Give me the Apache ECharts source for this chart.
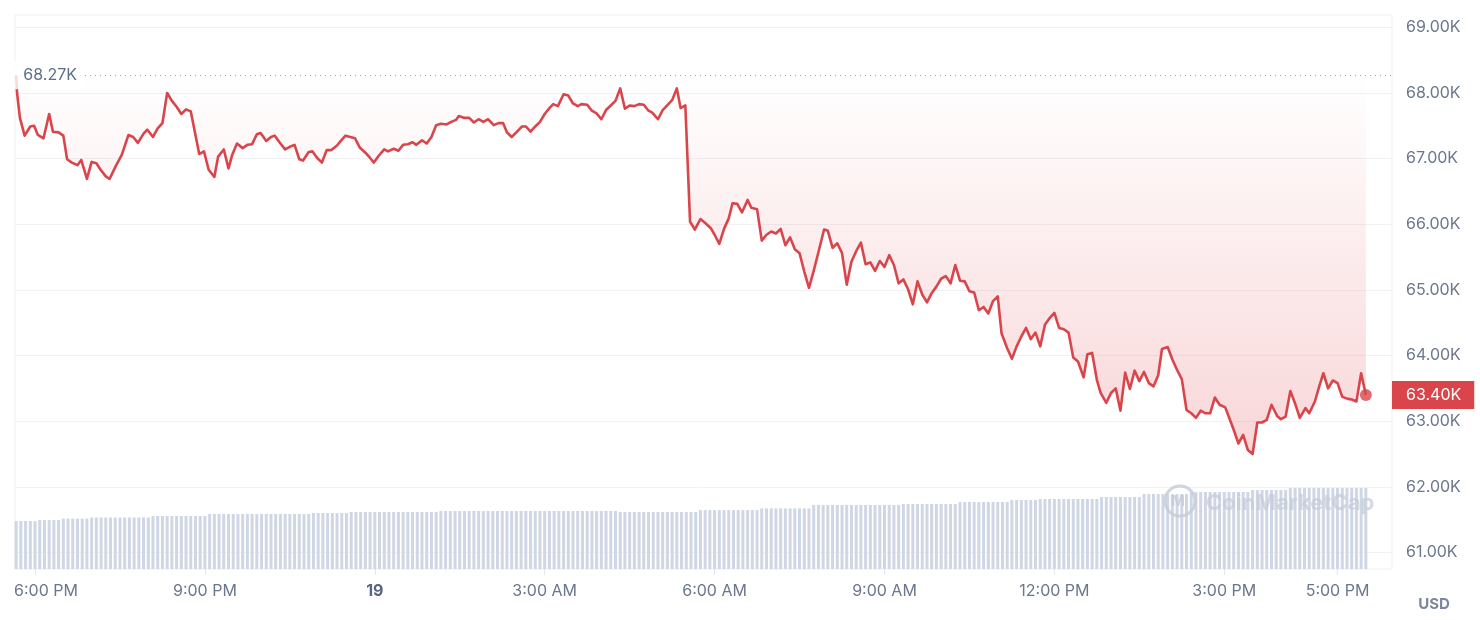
<!DOCTYPE html>
<html><head><meta charset="utf-8">
<script src="https://cdn.jsdelivr.net/npm/echarts@6/dist/echarts.min.js"></script>
<style>html,body{margin:0;padding:0;background:#fff}#c{width:1480px;height:620px}</style>
</head><body><div id="c"></div>
<script>
// minutes relative to 6:00 PM on day 18
const priceMinutes = [
-20,-19,-16,-11,-5,-1,3,9,15,19,
25,30,34,39,45,49,55,60,65,70,
75,79,85,92,99,104,109,115,119,125,
130,135,140,145,150,155,160,165,170,174,
179,184,190,194,200,205,209,214,220,225,
230,235,239,245,250,254,260,265,270,275,
280,284,290,294,299,304,309,314,320,324,
329,334,339,344,350,355,359,364,370,374,
380,385,390,395,400,404,410,415,420,425,
430,436,441,446,449,455,460,465,470,475,
480,486,491,496,500,505,510,516,520,525,
530,535,540,545,549,554,560,565,570,575,
579,585,590,595,600,605,610,615,620,625,
630,635,640,645,650,654,660,665,669,675,
680,684,689,694,699,705,710,716,720,725,
730,735,739,744,749,755,759,765,770,775,
780,785,790,795,800,805,810,815,820,825,
831,836,840,845,850,855,860,865,870,875,
880,885,890,895,900,905,910,915,920,925,
930,935,940,945,950,955,960,965,970,975,
980,985,990,995,1000,1005,1010,1015,1020,1024,
1030,1035,1040,1045,1050,1055,1060,1065,1070,1075,
1080,1085,1090,1095,1100,1105,1111,1115,1120,1125,
1129,1135,1140,1145,1150,1155,1160,1165,1170,1175,
1180,1185,1190,1194,1200,1205,1210,1215,1220,1225,
1230,1235,1240,1245,1250,1255,1261,1265,1270,1275,
1280,1285,1290,1295,1300,1305,1310,1316,1320,1325,
1330,1335,1340,1346,1350,1356,1361,1365,1370,1375,
1380,1385,1391,1395,1400,1405,1410
];
const prices = [
68270,68000,67620,67350,67490,67500,67360,67310,67680,67410,
67400,67350,66990,66940,66900,66980,66690,66950,66930,66820,
66730,66690,66870,67060,67360,67330,67240,67380,67440,67330,
67460,67540,68000,67880,67790,67680,67750,67720,67360,67070,
67110,66830,66720,67030,67140,66850,67060,67230,67160,67210,
67220,67370,67390,67270,67330,67350,67230,67140,67180,67210,
66990,66970,67100,67110,67010,66940,67130,67130,67200,67270,
67350,67330,67310,67170,67090,67010,66940,67040,67140,67110,
67150,67120,67210,67220,67250,67210,67280,67230,67330,67510,
67530,67520,67560,67590,67650,67620,67620,67550,67600,67560,
67600,67510,67540,67540,67400,67330,67400,67490,67490,67410,
67490,67560,67680,67770,67830,67800,67980,67960,67840,67800,
67830,67820,67730,67690,67600,67740,67810,67880,68070,67760,
67810,67800,67830,67820,67730,67700,67600,67740,67800,67890,
68070,67770,67810,66040,65920,66080,66020,65940,65840,65700,
65930,66090,66320,66310,66180,66370,66250,66230,65750,65840,
65890,65860,65930,65680,65800,65620,65560,65280,65030,65290,
65630,65920,65900,65640,65710,65560,65080,65430,65590,65720,
65390,65420,65290,65440,65350,65530,65380,65100,65160,65010,
64780,65130,64930,64810,64950,65050,65170,65210,65100,65380,
65140,65130,64980,64960,64690,64740,64640,64830,64900,64340,
64110,63950,64140,64290,64420,64250,64350,64140,64470,64570,
64650,64420,64400,64350,63970,63910,63670,64020,64040,63630,
63430,63280,63430,63500,63160,63740,63490,63770,63610,63750,
63580,63530,63700,64100,64130,63940,63780,63640,63170,63120,
63050,63160,63120,63120,63360,63250,63210,63060,62870,62660,
62790,62560,62500,62980,62980,63020,63250,63080,63030,63070,
63460,63270,63050,63200,63120,63300,63550,63730,63500,63620,
63580,63370,63340,63330,63300,63730,63400
];
const openPrice = 68270;
// 24h volume (billions USD), one bar every 5 minutes starting at -20 min
const volumeStartMinute = -20;
const volumeStepMinutes = 5;
const volumes = [
26.0,26.0,26.0,26.0,26.0,
26.5,26.5,26.5,26.5,26.5,
27.3,27.3,27.3,27.3,27.3,27.3,
27.9,27.9,27.9,27.9,27.9,27.9,27.9,27.9,27.9,27.9,27.9,27.9,27.9,
28.7,28.7,28.7,28.7,28.7,28.7,28.7,28.7,28.7,28.7,28.7,28.7,
29.8,29.8,29.8,29.8,29.8,29.8,29.8,29.8,29.8,29.8,29.8,29.8,29.8,29.8,29.8,29.8,29.8,29.8,29.8,29.8,29.8,29.8,
30.3,30.3,30.3,30.3,30.3,30.3,30.3,30.3,
30.9,30.9,30.9,30.9,30.9,30.9,30.9,30.9,30.9,30.9,30.9,30.9,30.9,30.9,30.9,30.9,30.9,30.9,30.9,
31.4,31.4,31.4,31.4,31.4,31.4,31.4,31.4,31.4,31.4,31.4,31.4,31.4,31.4,31.4,31.4,31.4,31.4,31.4,31.4,
31.4,31.4,31.4,31.4,31.4,31.4,31.4,31.4,31.4,31.4,31.4,31.4,31.4,31.4,31.4,31.4,31.4,31.4,
30.9,30.9,30.9,30.9,30.9,30.9,30.9,30.9,30.9,30.9,30.9,30.9,30.9,30.9,30.9,30.9,30.9,
31.9,31.9,31.9,31.9,31.9,31.9,31.9,31.9,31.9,31.9,31.9,31.9,31.9,
32.8,32.8,32.8,32.8,32.8,32.8,32.8,32.8,32.8,32.8,32.8,
34.7,34.7,34.7,34.7,34.7,34.7,34.7,34.7,34.7,34.7,34.7,34.7,34.7,34.7,34.7,34.7,34.7,34.7,34.7,
35.2,35.2,35.2,35.2,35.2,35.2,35.2,35.2,35.2,35.2,35.2,35.2,
36.3,36.3,36.3,36.3,36.3,36.3,36.3,36.3,36.3,36.3,36.3,
37.4,37.4,37.4,37.4,37.4,37.4,
37.9,37.9,37.9,37.9,37.9,37.9,37.9,37.9,37.9,37.9,37.9,37.9,37.9,
39.0,39.0,39.0,39.0,39.0,39.0,39.0,39.0,39.0,
40.6,40.6,40.6,40.6,40.6,40.6,40.6,40.6,40.6,40.6,
41.7,41.7,41.7,41.7,41.7,41.7,41.7,41.7,41.7,41.7,41.7,41.7,41.7,
42.8,42.8,42.8,42.8,42.8,42.8,42.8,42.8,
43.9,43.9,43.9,43.9,43.9,43.9,43.9,43.9,43.9,43.9,43.9,43.9,43.9,43.9,43.9,43.9,43.9
];
const xTickMinutes = [0,180,360,540,720,900,1080,1260,1380];
const xTickLabels = ['6:00 PM','9:00 PM','19','3:00 AM','6:00 AM','9:00 AM','12:00 PM','3:00 PM','5:00 PM'];
const yTicks = [61000,62000,63000,64000,65000,66000,67000,68000,69000];

const FONT = 'Inter, "Noto Sans", sans-serif';
const RED = '#d9454b';
const LABEL = '#6b778c';
const fmtK = v => (v/1000).toFixed(2) + 'K';
const priceData = priceMinutes.map((m,i)=>[m, prices[i]]);
const lastIdx = prices.length - 1;
const volData = volumes.map((v,i)=>[volumeStartMinute + i*volumeStepMinutes, v]);

const chart = echarts.init(document.getElementById('c'), null, {renderer:'canvas'});
chart.setOption({
  animation:false,
  backgroundColor:'#ffffff',
  textStyle:{fontFamily:FONT},
  grid:{left:15, right:88, top:15, bottom:51, show:true, borderColor:'#eef0f3', borderWidth:1},
  xAxis:{
    type:'value', min:-21.2, max:1437.7,
    axisLine:{show:false}, splitLine:{show:false},
    axisTick:{show:true, customValues:xTickMinutes, length:6, lineStyle:{color:'#e3e6ea'}},
    axisLabel:{
      customValues:xTickMinutes, margin:14, fontFamily:FONT, fontSize:16, color:LABEL,
      formatter:(v)=>{
        const i = xTickMinutes.indexOf(v);
        const t = i >= 0 ? xTickLabels[i] : '';
        if (i === 0) return '{first|' + t + '}';
        if (t === '19') return '{bold|' + t + '}';
        return t;
      },
      rich:{
        first:{padding:[0,0,0,22], fontFamily:FONT, fontSize:16, color:LABEL},
        bold:{fontWeight:'bold', fontFamily:FONT, fontSize:16, color:'#58667e'}
      }
    }
  },
  yAxis:[{
    type:'value', position:'right', min:60748, max:69188,
    axisLine:{show:false},
    axisTick:{show:false, customValues:yTicks},
    splitLine:{show:true, lineStyle:{color:'#f0f2f5', width:1}},
    axisLabel:{customValues:yTicks, margin:14, fontFamily:FONT, fontSize:16, color:LABEL, formatter:fmtK}
  },{
    type:'value', min:0, max:300, show:false, splitLine:{show:false}
  }],
  series:[{
    type:'bar', name:'Volume', xAxisIndex:0, yAxisIndex:1, data:volData,
    barWidth:3, silent:true, itemStyle:{color:'#cfd6e4'}
  },{
    type:'line', name:'Price', xAxisIndex:0, yAxisIndex:0, data:priceData,
    showSymbol:false, symbol:'none', smooth:false, z:5, clip:false,
    lineStyle:{color:RED, width:2.6, join:'round'},
    areaStyle:{origin:openPrice, color:new echarts.graphic.LinearGradient(0,0,0,1,[
      {offset:0, color:'rgba(224,62,70,0.0)'},
      {offset:1, color:'rgba(224,62,70,0.30)'}
    ])},
    markLine:{
      silent:true, symbol:['none','none'], animation:false, z:8,
      data:[{
        yAxis:openPrice,
        lineStyle:{type:[1,4], color:'#9aa2b0', width:1},
        label:{show:true, position:'start', distance:-68, formatter:()=>fmtK(openPrice),
          backgroundColor:'rgba(255,255,255,0.8)', padding:[6,6,6,11], color:'#616e85', fontSize:16, fontFamily:FONT}
      },{
        yAxis:prices[lastIdx],
        lineStyle:{color:'rgba(0,0,0,0)', width:1},
        label:{show:true, position:'end', distance:0, formatter:()=>fmtK(prices[lastIdx]),
          backgroundColor:RED, color:'#ffffff', padding:[6,13,6,14], fontSize:16, fontFamily:FONT}
      }]
    }
  },{
    type:'scatter', name:'Last', xAxisIndex:0, yAxisIndex:0, z:6, silent:true,
    data:[[priceMinutes[lastIdx], prices[lastIdx]]],
    symbolSize:12, itemStyle:{color:RED}
  }],
  graphic:[
    {type:'circle', shape:{cx:1180, cy:501, r:15}, style:{fill:'none', stroke:'rgba(196,203,216,0.8)', lineWidth:3}, z:10, silent:true},
    {type:'text', style:{x:1171, y:501, text:'M', font:'bold 15px ' + FONT, fill:'rgba(196,203,216,0.8)', verticalAlign:'middle'}, z:10, silent:true},
    {type:'text', style:{x:1206, y:503, text:'CoinMarketCap', font:'bold 22px ' + FONT, fill:'rgba(196,203,216,0.7)', verticalAlign:'middle'}, z:10, silent:true},
    {type:'text', style:{x:1434, y:604, text:'USD', font:'bold 15px ' + FONT, fill:'#7c879b', align:'center', verticalAlign:'middle'}, silent:true}
  ]
});
</script></body></html>
